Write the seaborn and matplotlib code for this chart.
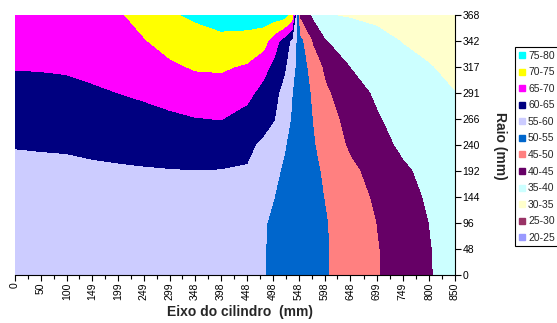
import numpy as np
import matplotlib
matplotlib.use("Agg")
import matplotlib.pyplot as plt
from matplotlib.lines import Line2D
import seaborn as sns

# axial positions of the grid columns (mm) and radius rows (category axis)
axial_mm = [0, 50, 100, 149, 199, 249, 299, 348, 398, 448, 480, 500,
            520, 535, 550, 575, 600, 648, 699, 749, 800, 850]
radius_rows = [0, 48, 96, 144, 192, 240, 266, 291, 317, 342, 368]

# field values, one list per radius row (bottom -> top)
r000 = [56.5, 56.5, 56.5, 56.5, 56.5, 56.5, 56.5, 56.5, 56.5, 56.5, 55.2,
        54.3, 53.5, 52.9, 52.3, 51.3, 50.3, 48.0, 45.3, 42.8, 40.3, 37.8]
r048 = [57.2, 57.2, 57.2, 57.3, 57.3, 57.3, 57.3, 57.3, 57.3, 57.3, 55.2,
        54.3, 53.5, 52.9, 52.3, 51.3, 50.3, 47.9, 45.2, 42.8, 40.2, 37.7]
r096 = [57.9, 57.9, 58.0, 58.0, 58.0, 58.1, 58.2, 58.2, 58.2, 58.0, 55.3,
        54.4, 53.6, 53.0, 52.3, 51.3, 50.2, 47.7, 44.9, 42.4, 39.9, 37.5]
r144 = [58.6, 58.7, 58.7, 58.7, 58.8, 58.9, 59.0, 59.0, 59.0, 58.8, 56.7,
        55.05, 54.0, 53.2, 52.4, 51.1, 49.8, 47.0, 44.2, 41.8, 39.3, 37.2]
r192 = [59.4, 59.4, 59.4, 59.5, 59.6, 59.7, 59.8, 59.9, 59.8, 59.6, 58.1,
        55.8, 54.5, 53.5, 52.5, 50.9, 49.3, 46.0, 43.2, 40.7, 38.7, 36.8]
r240 = [60.1, 60.2, 60.3, 60.6, 60.9, 61.3, 61.8, 62.2, 62.2, 61.0, 59.0,
        57.2, 55.3, 54.0, 52.6, 50.4, 48.1, 44.2, 41.6, 39.1, 38.0, 36.3]
r266 = [61.8, 61.9, 62.1, 62.5, 62.9, 63.5, 64.1, 64.8, 65.1, 63.5, 61.8,
        60.2, 56.8, 54.6, 52.8, 49.9, 47.0, 43.3, 40.4, 38.2, 37.3, 35.7]
r291 = [63.5, 63.6, 63.8, 64.3, 65.0, 65.7, 66.8, 67.7, 67.8, 66.2, 63.5,
        61.5, 58.3, 55.1, 52.9, 49.3, 45.7, 41.9, 39.3, 37.6, 36.4, 35.05]
r317 = [65.2, 65.3, 65.5, 66.2, 66.6, 67.7, 69.2, 70.4, 70.6, 69.4, 66.5,
        63.8, 60.8, 56.5, 52.8, 47.7, 43.9, 39.9, 38.2, 36.5, 35.2, 33.9]
r342 = [66.9, 66.9, 67.3, 68.1, 68.1, 69.7, 71.7, 73.1, 73.9, 73.5, 72.0,
        67.4, 62.8, 58.9, 51.6, 44.5, 40.1, 38.3, 36.3, 34.8, 33.8, 32.8]
r368 = [68.6, 68.6, 68.8, 69.0, 69.4, 71.7, 74.4, 75.7, 76.8, 77.0, 77.5,
        77.5, 77.0, 73.0, 44.0, 39.0, 35.2, 34.5, 34.0, 33.3, 32.3, 31.5]

axial_ticks = [0, 50, 100, 149, 199, 249, 299, 348, 398, 448, 498, 548,
               598, 648, 699, 749, 800, 850]
levels = [20, 25, 30, 35, 40, 45, 50, 55, 60, 65, 70, 75, 80]
band_labels = ["20-25", "25-30", "30-35", "35-40", "40-45", "45-50",
               "50-55", "55-60", "60-65", "65-70", "70-75", "75-80"]
band_colors = ["#9999FF", "#993366", "#FFFFCC", "#CCFFFF", "#660066", "#FF8080",
               "#0066CC", "#CCCCFF", "#000080", "#FF00FF", "#FFFF00", "#00FFFF"]

sns.set_theme(style="white")
plt.rcParams['font.family'] = ['Liberation Sans', 'DejaVu Sans']

fig = plt.figure(figsize=(5.57, 3.23), dpi=100)
ax = fig.add_axes([15 / 557, 48 / 323, 440 / 557, 260 / 323])

grid = np.array([r000, r048, r096, r144, r192, r240, r266, r291, r317, r342, r368])
rows = np.arange(len(radius_rows))
ax.contourf(axial_mm, rows, grid, levels=levels, colors=band_colors)

ax.set_xlim(0, 850)
ax.set_ylim(0, len(radius_rows) - 1)

ax.yaxis.tick_right()
ax.set_yticks(rows)
ax.set_yticklabels(radius_rows, fontsize=7.5)
ax.set_xticks(axial_ticks)
ax.set_xticklabels(axial_ticks, rotation=90, fontsize=7.5)
mids = (np.array(axial_ticks[:-1]) + np.array(axial_ticks[1:])) / 2
ax.set_xticks(mids, minor=True)
ax.tick_params(axis='both', which='major', direction='out', length=4, width=0.8,
               color='black', pad=1.5, labelcolor='black')
ax.tick_params(axis='x', which='minor', direction='out', length=3, width=0.8,
               color='black', bottom=True)
ax.tick_params(axis='x', bottom=True)
ax.tick_params(axis='y', right=True, left=False)

for side in ['left', 'top']:
    ax.spines[side].set_visible(False)
for side in ['right', 'bottom']:
    ax.spines[side].set_color('black')
    ax.spines[side].set_linewidth(0.8)

fig.text(240 / 557, 1 - 312 / 323, "Eixo do cilindro  (mm)", fontsize=10,
         fontweight='bold', ha='center', va='center')
fig.text(500 / 557, 1 - 146 / 323, "Raio (mm)", fontsize=10, fontweight='bold',
         rotation=270, ha='center', va='center')

handles = [Line2D([0], [0], marker='s', linestyle='none', markersize=4,
                  markerfacecolor=c, markeredgecolor=c) for c in band_colors]
leg = fig.legend(handles[::-1], band_labels[::-1], loc='upper left',
                 bbox_to_anchor=(515 / 557, 1 - 47 / 323), frameon=True,
                 fancybox=False, edgecolor='black', fontsize=7.5, handlelength=0.6,
                 handletextpad=0.3, labelspacing=0.63, borderpad=0.35,
                 borderaxespad=0, framealpha=1)
leg.get_frame().set_linewidth(0.8)

fig.savefig("out.png", dpi=100)
